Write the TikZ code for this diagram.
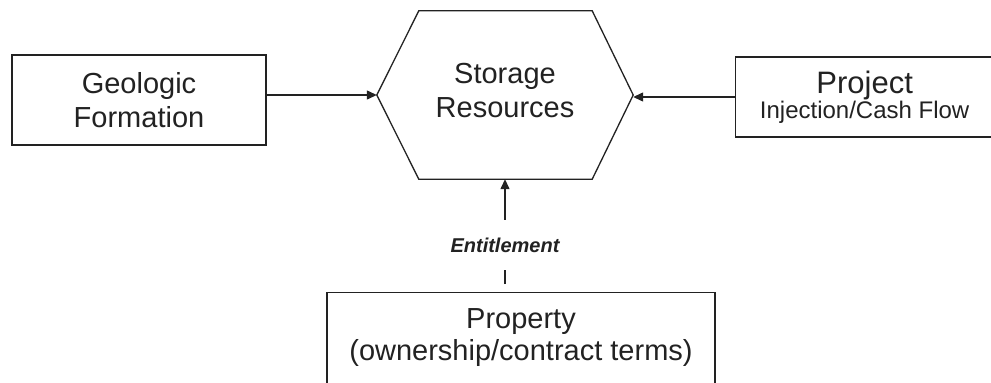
\documentclass[tikz,border=0pt]{standalone}
\usepackage{fontspec}
\setmainfont{Liberation Sans}
\usetikzlibrary{arrows.meta}
\definecolor{ink}{HTML}{222222}
\tikzset{
  box/.style={draw=ink, line width=1.3pt, text=ink, align=center, inner sep=0pt},
  conn/.style={draw=ink, line width=1.3pt},
  arr/.style={conn, -{Triangle[length=10pt,width=9pt]}},
  big/.style={font=\fontsize{29}{34}\selectfont},
}
\begin{document}
\begin{tikzpicture}[x=1pt,y=-1pt]
\clip (0,0) rectangle (991,383);
\fill[white] (0,0) rectangle (991,383);
% Geologic Formation
\node[box, big, minimum width=254pt, minimum height=90pt] (geo) at (139,100) {Geologic\\Formation};
% Storage Resources hexagon (frame node)
\node[text=ink, align=center, big, minimum width=256pt, minimum height=168pt, inner sep=0pt, text depth=10pt] (hex) at (505,95) {Storage\\Resources};
\draw[conn, line join=miter] (hex.west) -- ([xshift=42pt]hex.north west) -- ([xshift=-41pt]hex.north east) -- (hex.east) -- ([xshift=-41pt]hex.south east) -- ([xshift=42pt]hex.south west) -- cycle;
% Project
\node[box, minimum width=258pt, minimum height=80pt, anchor=west] (proj) at (735,97) {\fontsize{31}{31}\selectfont Project\\\fontsize{24}{25}\selectfont Injection/Cash Flow};
% Property
\node[box, font=\fontsize{29}{32}\selectfont, minimum width=388pt, minimum height=94pt, text depth=10pt, anchor=north] (prop) at (521,292) {Property\\(ownership/contract terms)};
% Entitlement label
\node[text=ink, font=\fontsize{20}{22}\selectfont\bfseries\itshape, minimum height=50pt, inner sep=0pt] (ent) at (505,245) {Entitlement};
\coordinate (pstart) at (505,284);
% connectors
\draw[arr] (geo.east |- hex.west) -- (hex.west);
\draw[arr] (proj.west) -- (proj.west -| hex.east);
\draw[conn] (pstart) -- (ent.south);
\draw[arr] (ent.north) -- (hex.south);
\end{tikzpicture}
\end{document}
